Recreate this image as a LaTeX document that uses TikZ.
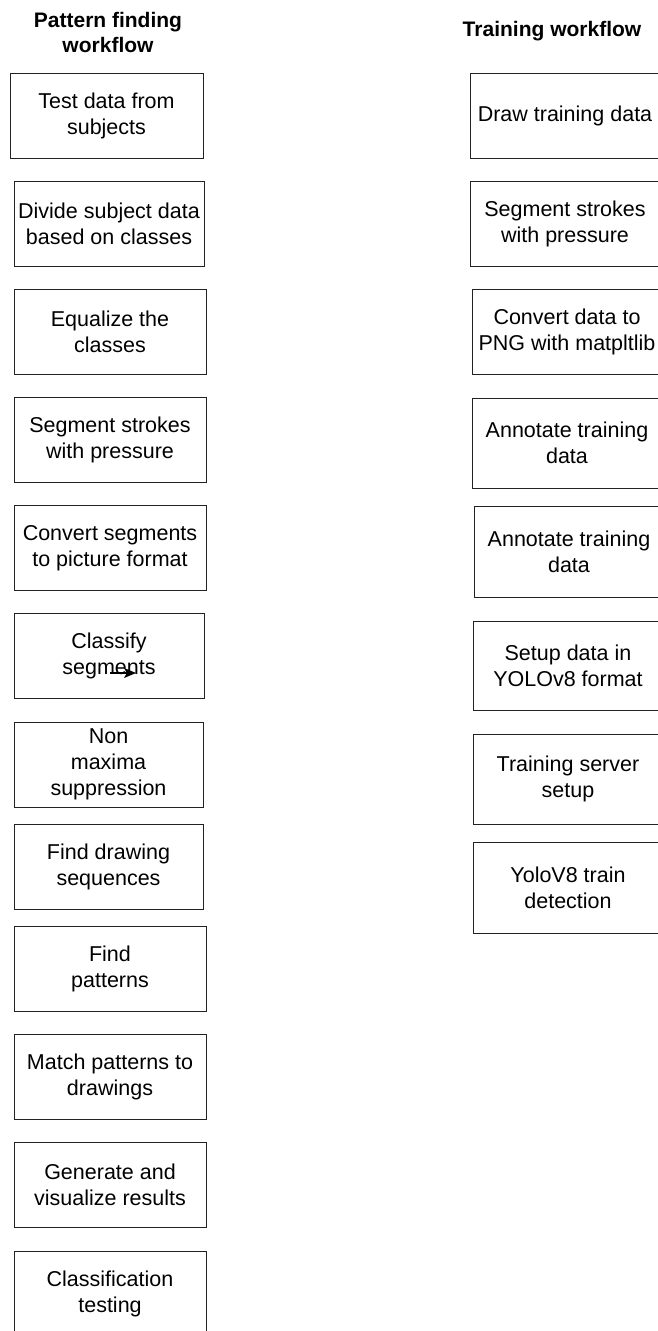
\documentclass[tikz,border=0pt]{standalone}
\usepackage{fontspec}
\setmainfont{Liberation Sans}
\usepackage{tikz}
\usetikzlibrary{arrows.meta, positioning}
\definecolor{mLine}{HTML}{222222}

\begin{document}
\begin{tikzpicture}[x=1pt, y=-1pt,
      bx/.style={draw=mLine, line width=1pt, minimum width=192pt, minimum height=85pt,
        inner sep=0pt, align=center, font=\fontsize{21.5}{26}\selectfont},
      hd/.style={align=center, font=\bfseries\fontsize{21}{25}\selectfont}]
    \useasboundingbox (0,0) rectangle (657,1331);
    % pattern finding workflow
    \node[hd] (pfhead) at (108,32) {Pattern finding\\workflow};
    \node[bx, minimum width=193pt] (pf1) at (106.5,115.5) {Test data from\\subjects};
    \node[bx, minimum width=190pt] (pf2) at (109,224)  {Divide subject data\\based on classes};
    \node[bx] (pf3) at (110,332)  {Equalize the\\classes};
    \node[bx] (pf4) at (110,440)  {Segment strokes\\with pressure};
    \node[bx] (pf5) at (110,548)  {Convert segments\\to picture format};
    \node[bx, minimum width=190pt] (pf6) at (109,655.5) {Classify\\segments};
    \node[bx, minimum width=189pt] (pf7) at (108.5,764.5) {Non\\maxima\\suppression};
    \node[bx, minimum width=189pt] (pf8) at (108.5,866.5) {Find drawing\\sequences};
    \node[bx] (pf9) at (110,969)  {Find\\patterns};
    \node[bx] (pf10) at (110,1076.5) {Match patterns to\\drawings};
    \node[bx] (pf11) at (110,1185) {Generate and\\visualize results};
    \node[bx] (pf12) at (110,1293.5) {Classification\\testing};
    \coordinate (ar1) at (110,673);
    \coordinate (ar2) at (136,673);
    \draw[black, line width=1.2pt, -{Stealth[length=12pt, width=10pt, inset=3pt]}] (ar1) -- (ar2);
    % training workflow
    \node[hd] (twhead) at (552,31) {Training workflow};
    \node[bx, minimum width=190pt] (tw1) at (565,115.5) {Draw training data};
    \node[bx, minimum width=190pt] (tw2) at (565,224)   {Segment strokes\\with pressure};
    \node[bx, minimum width=190pt] (tw3) at (567,332)   {Convert data to\\PNG with matpltlib};
    \node[bx, minimum width=190pt, minimum height=90pt] (tw4) at (567,443)   {Annotate training\\data};
    \node[bx, minimum width=190pt, minimum height=91pt] (tw5) at (569,551.5) {Annotate training\\data};
    \node[bx, minimum width=190pt, minimum height=89pt] (tw6) at (568,665.5) {Setup data in\\YOLOv8 format};
    \node[bx, minimum width=190pt, minimum height=90pt] (tw7) at (568,779)   {Training server\\setup};
    \node[bx, minimum width=190pt, minimum height=91pt] (tw8) at (568,887.5) {YoloV8 train\\detection};
  \end{tikzpicture}
\end{document}
